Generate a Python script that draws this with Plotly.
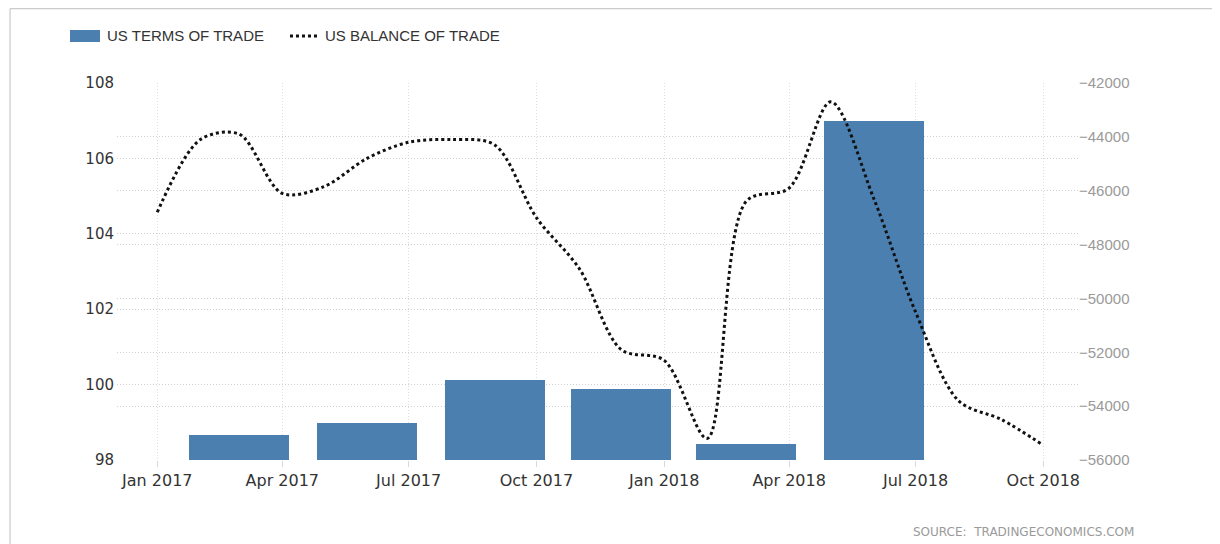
import plotly.graph_objects as go

# quarterly terms of trade (index)
tot_dates = ["2017-03-01", "2017-06-01", "2017-09-01", "2017-12-01", "2018-03-01", "2018-06-01"]
tot_values = [98.67, 98.97, 100.12, 99.88, 98.42, 107.0]

# monthly balance of trade (USD million)
bot_dates = [
    "2017-01-01", "2017-02-01", "2017-03-01", "2017-04-01", "2017-05-01", "2017-06-01",
    "2017-07-01", "2017-08-01", "2017-09-01", "2017-10-01", "2017-11-01", "2017-12-01",
    "2018-01-01", "2018-02-01", "2018-03-01", "2018-04-01", "2018-05-01", "2018-06-01",
    "2018-07-01", "2018-08-01", "2018-09-01", "2018-10-01",
]
bot_values = [
    -46800, -44100, -43900, -46100, -45850, -44800,
    -44200, -44100, -44300, -47000, -48900, -51900,
    -52300, -55200, -46400, -45900, -42700, -46300,
    -50500, -53800, -54500, -55450,
]

BAR_COLOR = "#4a7fb0"
DAY_MS = 86400000
FLOOR = 98

fig = go.Figure()
# bars start at the 98 floor of the left axis
fig.add_trace(go.Bar(
    x=tot_dates, y=[v - FLOOR for v in tot_values], base=FLOOR, width=72 * DAY_MS,
    marker=dict(color=BAR_COLOR, line=dict(width=0)),
    name="US TERMS OF TRADE", showlegend=False,
))
fig.add_trace(go.Scatter(
    x=bot_dates, y=bot_values, yaxis="y2", mode="lines",
    line=dict(color="#111111", width=3, dash="dot", shape="spline", smoothing=0.9),
    name="US BALANCE OF TRADE", showlegend=False,
))

grid = "#cfcfcf"
fig.update_layout(
    width=1220, height=544,
    margin=dict(l=109, r=150, t=75, b=92),
    paper_bgcolor="white", plot_bgcolor="white",
    bargap=0,
    xaxis=dict(
        type="date", range=["2016-12-03", "2018-10-26"],
        tick0="2017-01-01", dtick="M3", tickformat="%b %Y",
        showgrid=True, gridcolor="#dedede", griddash="1px,2px", gridwidth=1,
        ticks="outside", ticklen=6, tickcolor="#d8d8d8",
        tickfont=dict(family="DejaVu Sans", size=16, color="#333333"),
        showline=False, zeroline=False,
    ),
    yaxis=dict(
        range=[98, 108], dtick=2, tick0=98,
        showgrid=True, gridcolor=grid, griddash="1px,2px", gridwidth=1,
        tickfont=dict(family="DejaVu Sans", size=15, color="#333333"),
        zeroline=False, showline=False, ticklabelstandoff=2,
    ),
    yaxis2=dict(
        range=[-56000, -42000], dtick=2000, tick0=-56000,
        overlaying="y", side="right",
        showgrid=True, gridcolor=grid, griddash="1px,2px", gridwidth=1,
        tickformat="d",
        tickfont=dict(family="Liberation Sans", size=15, color="#9a9a9a"),
        zeroline=False, showline=False,
    ),
    shapes=[
        # frame edge (left and top only visible)
        dict(type="rect", xref="paper", yref="paper", x0=-0.1113, x1=1.2, y0=-0.3, y1=1.197,
             line=dict(color="#bdbdbd", width=1), fillcolor="rgba(0,0,0,0)", layer="below"),
        # legend swatches
        dict(type="rect", xref="paper", yref="paper", x0=-0.0489, x1=-0.0177, y0=1.1088, y1=1.1406,
             line=dict(width=0), fillcolor=BAR_COLOR),
        dict(type="line", xref="paper", yref="paper", x0=0.180, x1=0.209, y0=1.1247, y1=1.1247,
             line=dict(color="#111111", width=3, dash="dot")),
    ],
    annotations=[
        dict(text="US TERMS OF TRADE", xref="paper", yref="paper", x=-0.0125, y=1.1247,
             xanchor="left", yanchor="middle", showarrow=False,
             font=dict(family="Liberation Sans", size=15, color="#333333")),
        dict(text="US BALANCE OF TRADE", xref="paper", yref="paper", x=0.2144, y=1.1247,
             xanchor="left", yanchor="middle", showarrow=False,
             font=dict(family="Liberation Sans", size=15, color="#333333")),
        dict(text="SOURCE:  TRADINGECONOMICS.COM", xref="paper", yref="paper", x=1.06, y=-0.19,
             xanchor="right", yanchor="middle", showarrow=False,
             font=dict(family="DejaVu Sans", size=12, color="#9a9a9a")),
    ],
)

fig.write_html("out.html")
